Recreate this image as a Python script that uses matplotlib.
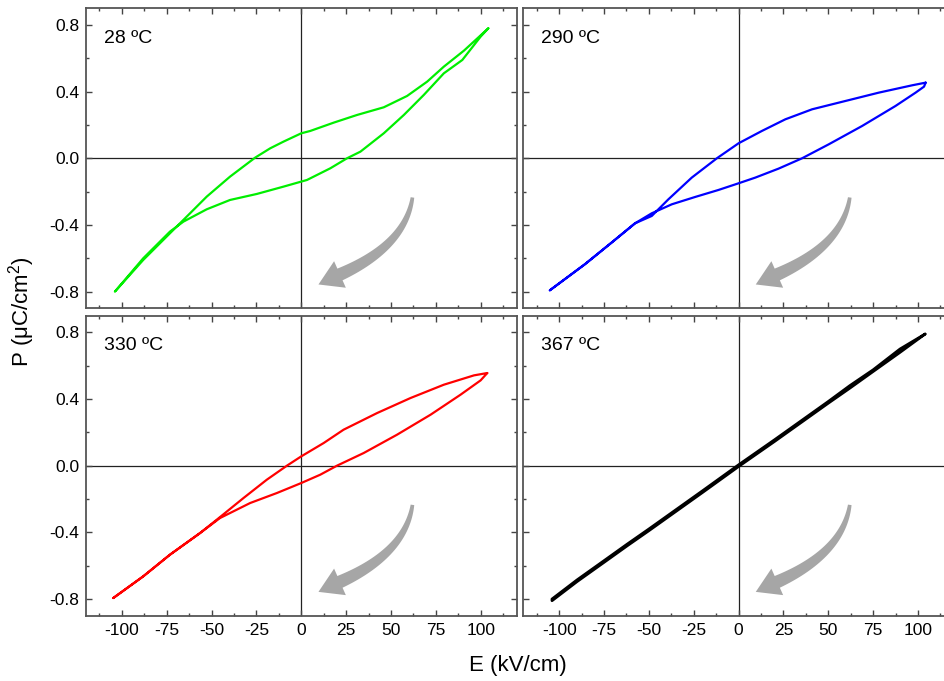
import numpy as np
import matplotlib.pyplot as plt
from matplotlib.patches import Polygon
from matplotlib.ticker import MultipleLocator

plt.rcParams['font.family'] = ['Liberation Sans', 'DejaVu Sans']
plt.rcParams['mathtext.fontset'] = 'custom'
plt.rcParams['mathtext.rm'] = 'Liberation Sans'
plt.rcParams['axes.unicode_minus'] = False

# P-E loops: field going down (upper branch), then field going up (lower branch)
# 28 ºC
e28_down = [104.3, 90.7, 79.5, 70.2, 59.0, 46.0, 31.1, 18.1, 5.0, 0.0, -9.9, -17.3, -25.7, -39.7, -52.7, -62.0, -73.2, -88.1, -103.9]
p28_down = [0.78, 0.646, 0.55, 0.46, 0.374, 0.306, 0.26, 0.214, 0.164, 0.15, 0.10, 0.06, 0.004, -0.11, -0.23, -0.33, -0.45, -0.61, -0.80]
e28_up = [-103.9, -88.1, -73.2, -65.7, -52.7, -39.7, -24.8, -9.9, 3.2, 16.2, 25.5, 33.0, 46.0, 57.2, 68.3, 79.5, 89.8, 100.0, 104.3]
p28_up = [-0.80, -0.60, -0.44, -0.38, -0.306, -0.25, -0.214, -0.17, -0.13, -0.06, 0.0, 0.04, 0.15, 0.26, 0.38, 0.51, 0.59, 0.73, 0.78]

# 290 ºC
e290_down = [104.3, 96.8, 78.2, 59.6, 41.0, 26.1, 13.0, 0.0, -12.1, -26.1, -39.1, -48.4, -57.7, -70.8, -85.7, -105.2]
p290_down = [0.454, 0.438, 0.394, 0.344, 0.294, 0.234, 0.164, 0.09, 0.0, -0.116, -0.246, -0.346, -0.39, -0.506, -0.636, -0.792]
e290_up = [-105.2, -85.7, -70.8, -57.7, -48.4, -37.2, -24.2, -11.2, 0.0, 9.3, 22.3, 35.4, 50.3, 68.9, 87.5, 98.7, 103.4, 104.3]
p290_up = [-0.792, -0.636, -0.506, -0.39, -0.33, -0.276, -0.232, -0.19, -0.15, -0.116, -0.062, 0.0, 0.084, 0.194, 0.314, 0.394, 0.43, 0.454]

# 330 ºC
e330_down = [103.7, 96.3, 79.5, 60.9, 42.3, 23.6, 12.5, 0.0, -8.0, -19.2, -32.2, -47.1, -56.4, -73.2, -88.1, -104.8]
p330_down = [0.556, 0.542, 0.486, 0.406, 0.316, 0.216, 0.136, 0.056, 0.0, -0.084, -0.194, -0.324, -0.404, -0.534, -0.664, -0.794]
e330_up = [-104.8, -88.1, -73.2, -56.4, -45.3, -28.5, -13.6, 0.0, 10.6, 19.9, 34.8, 53.4, 72.1, 88.8, 100.0, 103.7]
p330_up = [-0.794, -0.664, -0.534, -0.404, -0.314, -0.224, -0.164, -0.104, -0.054, 0.0, 0.076, 0.186, 0.306, 0.426, 0.512, 0.556]

# 367 ºC
e367_down = [104, 90, 75, 62, 50, 35, 20, 0, -20, -35, -50, -62, -75, -90, -104]
p367_down = [0.79, 0.70, 0.575, 0.48, 0.385, 0.27, 0.155, 0.005, -0.15, -0.265, -0.38, -0.47, -0.57, -0.685, -0.80]
e367_up = [-104, -90, -75, -62, -50, -35, -20, 0, 20, 35, 50, 62, 75, 90, 104]
p367_up = [-0.81, -0.695, -0.58, -0.48, -0.39, -0.275, -0.16, -0.005, 0.145, 0.26, 0.375, 0.465, 0.565, 0.68, 0.79]

temps = ['28 ºC', '290 ºC', '330 ºC', '367 ºC']
colors = ['#00ee00', '#0000ff', '#ff0000', '#000000']
loops = [
    (e28_down + e28_up, p28_down + p28_up),
    (e290_down + e290_up, p290_down + p290_up),
    (e330_down + e330_up, p330_down + p330_up),
    (e367_down + e367_up, p367_down + p367_up),
]
widths = [1.6, 1.6, 1.6, 2.0]


def curved_arrow(ax, x0, y0, color='#a6a6a6'):
    """Tapered grey arrow bending down-left from (x0, y0); shape set in pixels."""
    sx, sy = ax.transData.transform((x0, y0))
    ctrl = np.array([-7.0, -48.0])
    base = np.array([-72.5, -77.0])
    tip = np.array([-94.0, -87.0])
    t = np.linspace(0, 1, 40)[:, None]
    pts = 2 * (1 - t) * t * ctrl + t ** 2 * base
    d = 2 * (1 - t) * ctrl + 2 * t * (base - ctrl)
    nrm = np.column_stack([-d[:, 1], d[:, 0]]) / np.hypot(d[:, 0], d[:, 1])[:, None]
    half = 1.8 + 4.6 * t
    left = pts + nrm * half
    right = pts - nrm * half
    hw = 14.5
    outline = np.vstack([left, base + nrm[-1] * hw, tip, base - nrm[-1] * hw, right[::-1]])
    outline = outline + [sx, sy]
    verts = ax.transData.inverted().transform(outline)
    ax.add_patch(Polygon(verts, closed=True, fc=color, ec='none', zorder=2))


W, H = 944, 681
fig = plt.figure(figsize=(W / 100, H / 100), dpi=100)

# panel boxes in pixels: left, top
boxes = [(86, 8.3), (523.3, 8.3), (86, 315.7), (523.3, 315.7)]
pw, ph = 430.5, 300

for i, (left, top) in enumerate(boxes):
    ax = fig.add_axes([left / W, 1 - (top + ph) / H, pw / W, ph / H])
    e, p = loops[i]
    ax.axhline(0, color='#222222', lw=0.9, zorder=1)
    ax.axvline(0, color='#222222', lw=0.9, zorder=1)
    ax.plot(e, p, color=colors[i], lw=widths[i], zorder=3,
            solid_joinstyle='round', solid_capstyle='round')

    ax.set_xlim(-120, 120)
    ax.set_ylim(-0.9, 0.9)
    ax.xaxis.set_major_locator(MultipleLocator(25))
    ax.xaxis.set_minor_locator(MultipleLocator(12.5))
    ax.yaxis.set_major_locator(MultipleLocator(0.4))
    ax.yaxis.set_minor_locator(MultipleLocator(0.2))
    ax.yaxis.set_major_formatter('{x:.1f}')
    ax.tick_params(which='both', direction='in', top=True, right=True,
                   color='#444444', width=1.0, labelsize=12.5, pad=5)
    ax.tick_params(which='major', length=4.3)
    ax.tick_params(which='minor', length=2.2)
    for s in ax.spines.values():
        s.set_color('#555555')
        s.set_linewidth(1.3)
    if i in (0, 1):
        ax.tick_params(labelbottom=False)
    if i in (1, 3):
        ax.tick_params(labelleft=False)

    ax.text(-110, 0.72, temps[i], fontsize=14, ha='left', va='center')

    # cooling direction
    curved_arrow(ax, 62, -0.235)

fig.text(518 / W, 1 - 665 / H, 'E (kV/cm)', fontsize=16, ha='center', va='center')
fig.text(22 / W, 1 - 312 / H, r'P ($\mathregular{\mu}$C/cm$^\mathregular{2}$)',
         fontsize=16, ha='center', va='center', rotation=90)

fig.savefig('out.png', dpi=100)
